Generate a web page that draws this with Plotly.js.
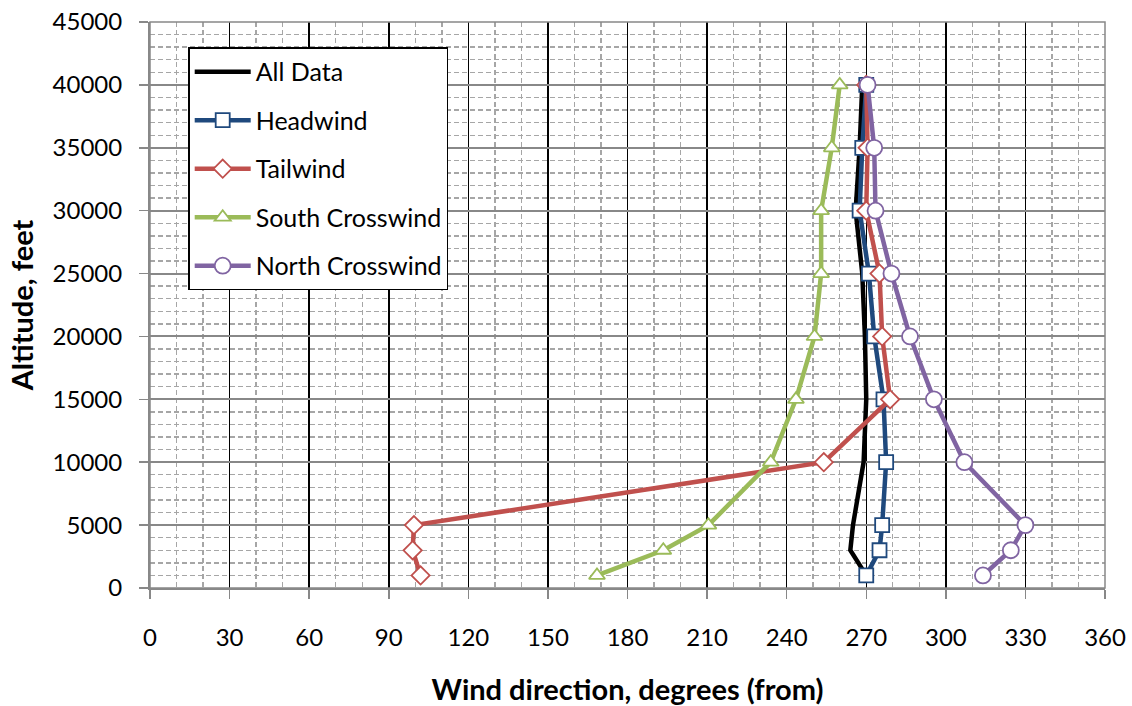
<!DOCTYPE html>
<html>
<head>
<meta charset="utf-8">
<script src="https://cdn.plot.ly/plotly-3.0.1.min.js"></script>
<style>html,body{margin:0;padding:0;background:#fff;}#chart{width:1132px;height:706px;}</style>
</head>
<body>
<div id="chart"></div>
<script>
const altitudes = [1000, 3000, 5000, 10000, 15000, 20000, 25000, 30000, 35000, 40000];
const allData = [270, 264, 265, 269, 270, 269.5, 268.5, 266, 267.5, 268.5];
const headwind = [270, 275, 276, 277.5, 276.5, 273, 271, 267.5, 268.5, 270];
const tailwind = [102, 99, 99.5, 254, 279, 276, 275, 270, 270.5, 270];
const southCross = [168.5, 193.5, 210.5, 234, 243.5, 250.5, 253, 253, 257, 260];
const northCross = [314, 324.5, 330, 307, 295.5, 286.5, 279.5, 273.5, 273, 270.5];
const xTicks = [0, 30, 60, 90, 120, 150, 180, 210, 240, 270, 300, 330, 360];
const yTicks = [0, 5000, 10000, 15000, 20000, 25000, 30000, 35000, 40000, 45000];

const font = "Lato, 'Open Sans', sans-serif";
function tr(name, x, color, sym, size, group) {
  const t = {x: x, y: altitudes, name: name, type: 'scatter', legendgroup: group,
    line: {color: color, width: 4.5}, mode: sym ? 'lines+markers' : 'lines'};
  if (sym) t.marker = {symbol: sym, size: size, color: '#ffffff', line: {color: color, width: 1.8}};
  return t;
}
const traces = [
  tr('All Data', allData, '#000000', null, 0, 'a'),
  tr('Headwind', headwind, '#1f497d', 'square', 14, 'b'),
  tr('Tailwind', tailwind, '#c0504d', 'diamond', 14, 'c'),
  tr('South Crosswind', southCross, '#9bbb59', 'triangle-up', 14, 'd'),
  tr('North Crosswind', northCross, '#8064a2', 'circle', 16, 'e')
];
const layout = {
  width: 1132, height: 706,
  margin: {l: 150, r: 27, t: 22, b: 118},
  paper_bgcolor: '#ffffff', plot_bgcolor: '#ffffff',
  font: {family: font, size: 24, color: '#000'},
  showlegend: true,
  legend: {x: 0.04, y: 0.955, xanchor: 'left', yanchor: 'top', bgcolor: '#ffffff',
    bordercolor: '#000000', borderwidth: 1.5, font: {family: font, size: 25, color: '#000'},
    tracegroupgap: 13, itemwidth: 56},
  xaxis: {range: [0, 360], tickvals: xTicks, ticktext: xTicks.map(String),
    showgrid: true, gridcolor: '#000000', gridwidth: 1.5,
    minor: {dtick: 10, showgrid: true, gridcolor: '#a6a6a6', griddash: '5px,3px', gridwidth: 1.4},
    ticks: 'outside', ticklen: 9, tickcolor: '#888', tickwidth: 1.5, ticklabelstandoff: 18,
    showline: true, linecolor: '#888', linewidth: 2, mirror: false, zeroline: false,
    tickfont: {family: font, size: 24},
    title: {text: '<b>Wind direction, degrees (from)</b>', font: {family: font, size: 29}, standoff: 30}},
  yaxis: {range: [0, 45000], tickvals: yTicks, ticktext: yTicks.map(String),
    showgrid: true, gridcolor: '#888888', gridwidth: 2,
    minor: {dtick: 1000, showgrid: true, gridcolor: '#a6a6a6', griddash: '5px,3px', gridwidth: 1.4},
    ticks: 'outside', ticklen: 9, tickcolor: '#888', tickwidth: 1.5, ticklabelstandoff: 12,
    showline: true, linecolor: '#888', linewidth: 2, zeroline: false,
    tickfont: {family: font, size: 24},
    title: {text: '<b>Altitude, feet</b>', font: {family: font, size: 29}, standoff: 10}},
  shapes: [{type: 'rect', xref: 'paper', yref: 'paper', x0: 0, x1: 1, y0: 0, y1: 1,
    line: {color: '#888', width: 1.5}}]
};
Plotly.newPlot('chart', traces, layout, {displayModeBar: false, staticPlot: true});
</script>
</body>
</html>
